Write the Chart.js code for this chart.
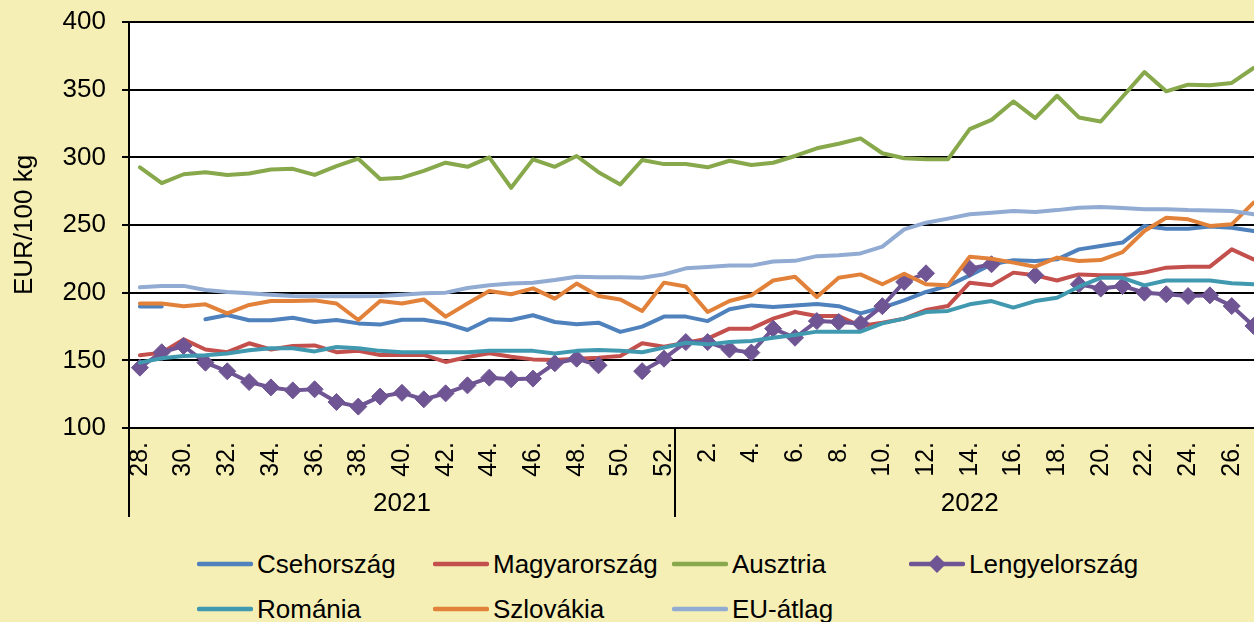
<!DOCTYPE html>
<html lang="hu">
<head>
<meta charset="utf-8">
<title>Sertésárak 2021-2022</title>
<script src="https://cdn.jsdelivr.net/npm/chart.js@4.4.1/dist/chart.umd.min.js"></script>
<style>
  html, body { margin: 0; padding: 0; }
  body { width: 1254px; height: 622px; overflow: hidden; background: #f5efb5; font-family: "Liberation Sans", Arial, sans-serif; }
  #wrap { position: relative; width: 1254px; height: 622px; overflow: hidden; }
  #box { position: absolute; left: 0; top: 0; width: 1274px; height: 530px; }
  .item { position: absolute; height: 32px; display: flex; align-items: center; font-size: 26px; color: #000; white-space: nowrap; }
  .item svg { margin-right: 4px; }
</style>
</head>
<body>
<div id="wrap">
  <div id="box"><canvas id="chart"></canvas></div>
  <div id="legend"></div>
</div>
<script>
const FONT = '"Liberation Sans", Arial, sans-serif';

const weeks2021 = ['28.', '29.', '30.', '31.', '32.', '33.', '34.', '35.', '36.', '37.', '38.', '39.', '40.',
    '41.', '42.', '43.', '44.', '45.', '46.', '47.', '48.', '49.', '50.', '51.', '52.'];
const weeks2022 = ['1.', '2.', '3.', '4.', '5.', '6.', '7.', '8.', '9.', '10.', '11.', '12.', '13.', '14.',
    '15.', '16.', '17.', '18.', '19.', '20.', '21.', '22.', '23.', '24.', '25.', '26.', '27.'];
const years = ['2021', '2022'];
const yTicks = [100, 150, 200, 250, 300, 350, 400];

const csehorszag = [189.7, 189.7, null, 180.3, 183.5, 179.6, 179.6, 181.5, 178.3, 179.8, 177.3, 176.4, 180,
    180, 177.3, 172.4, 180.3, 179.8, 183.3, 178.3, 176.6, 177.8, 171, 174.9, 182.3,
    182.3, 179, 187.7, 190.6, 189.4, 190.6, 191.6, 190, 184.7, 189, 194.3, 200.5, 205, 212.8,
    221, 224, 223.4, 224.6, 232, 234.5, 237, 249.3, 247.3, 247.3, 248.8, 248, 245.6];
const magyarorszag = [153.7, 155.7, 165.5, 158, 156, 162.6, 158, 160.6, 161, 156, 157, 154, 154,
    154, 148.8, 152.5, 155.2, 152.7, 150.7, 150.2, 151.2, 152, 153.2, 162.6, 160,
    163, 166, 173.4, 173.4, 180.8, 185.7, 182.8, 182.8, 175.4, 177.8, 180.8, 187.2, 190.1, 207.4,
    205.4, 214.8, 212.8, 209, 213.5, 212.8, 212.8, 214.8, 218.5, 219.2, 219.2, 232, 224.6];
const ausztria = [292.5, 281, 287.5, 289, 287, 288, 291, 291.5, 287, 293.5, 299, 284, 285,
    290, 296, 293, 300, 277.5, 298.5, 293, 301, 289, 280, 298, 295,
    295, 292.6, 297.5, 294.3, 296, 301, 306.7, 310, 314, 303, 299.3, 298.5, 298.5, 320.8,
    327.7, 341.3, 329, 345.5, 329.5, 326.5, 344.8, 363, 348.8, 353.7, 353.2, 355, 366];
const lengyelorszag = [144.6, 156, 160.6, 148.3, 141.9, 134, 130, 127.8, 128.6, 119.2, 115.8, 123.2, 126,
    121.2, 125.6, 131.5, 137.2, 136, 136.5, 147.8, 151.2, 146.3, null, 142, 151.2,
    163.5, 163.5, 158, 155.7, 173.4, 166.7, 179, 178.3, 177.3, 190, 207.9, 214.3, null, 217.7,
    221, null, 212.8, null, 206.2, 203, 204.9, 200, 198.8, 197.5, 198, 190.1, 175.4];
const romania = [148.3, 151.5, 153.2, 153.7, 155, 157.4, 159, 159, 156.6, 159.9, 159, 157, 156,
    156, 156, 156, 157, 157, 157, 155, 157, 157.6, 157, 156, 159.4,
    163, 161.8, 163.5, 164.3, 166.7, 168.7, 171.2, 171.2, 171.2, 177.3, 180.8, 185.7, 186.5, 191.4,
    193.8, 189, 193.8, 196.3, 204.4, 211, 211, 205.4, 209, 209, 209, 206.9, 206.2];
const szlovakia = [192, 192, 190, 191.4, 184.7, 190.9, 193.8, 193.8, 194.3, 192, 179.8, 193.8, 192,
    195, 182.3, 192, 201.2, 198.8, 203.2, 195.6, 206.7, 197.5, 195, 186.5, 207.4,
    204.5, 185.7, 193.8, 198, 209, 211.8, 196.8, 211, 213.5, 206.2, 214, 206.2, 205.4, 226.6,
    225, 222.2, 219.2, 225.9, 223.4, 224.1, 230, 245.6, 255.4, 254.2, 249.3, 250.5, 266.5];
const euAtlag = [204, 205, 205, 202, 200.5, 199.5, 198.5, 197.5, 197.3, 197.3, 197.3, 197.5, 198.5,
    199.5, 200, 203.4, 205.4, 206.7, 207.4, 209.4, 211.8, 211.3, 211.3, 211, 213.5,
    218, 219, 220, 220, 223, 223.5, 227, 227.6, 229, 234, 246.8, 251.7, 254.7, 257.9,
    259.1, 260.3, 259.6, 261, 262.8, 263.3, 262.6, 261.6, 261.6, 261, 260.8, 260.3, 257.9];

const series = [
    { label: 'Csehország', data: csehorszag, color: '#4f81bd' },
    { label: 'Magyarország', data: magyarorszag, color: '#c4504e' },
    { label: 'Ausztria', data: ausztria, color: '#87a84b' },
    { label: 'Lengyelország', data: lengyelorszag, color: '#6f5593', marker: true },
    { label: 'Románia', data: romania, color: '#4199b0' },
    { label: 'Szlovákia', data: szlovakia, color: '#e2823a' },
    { label: 'EU-átlag', data: euAtlag, color: '#91abd3' }
];

// legend item anchors (left of line sample, vertical centre)
const legendPos = [[197, 564], [433, 564], [672, 564], [909, 564], [197, 609], [433, 609], [672, 609]];

const plotBg = {
    id: 'plotBg',
    beforeDraw(chart) {
        const { ctx, chartArea: a } = chart;
        ctx.save();
        ctx.fillStyle = '#fff';
        ctx.fillRect(a.left, a.top, a.right - a.left, a.bottom - a.top);
        ctx.restore();
    }
};

const yearAxis = {
    id: 'yearAxis',
    afterDraw(chart) {
        const { ctx, chartArea: a, scales: { x } } = chart;
        const n1 = weeks2021.length;
        const split = (x.getPixelForValue(n1 - 1) + x.getPixelForValue(n1)) / 2;
        const bounds = [a.left, split, a.right];
        ctx.save();
        ctx.strokeStyle = '#000';
        ctx.lineWidth = 2;
        bounds.forEach(b => {
            ctx.beginPath();
            ctx.moveTo(Math.round(b), a.bottom);
            ctx.lineTo(Math.round(b), a.bottom + 89);
            ctx.stroke();
        });
        ctx.fillStyle = '#000';
        ctx.font = '26px ' + FONT;
        ctx.textAlign = 'center';
        ctx.textBaseline = 'alphabetic';
        years.forEach((yr, k) => ctx.fillText(yr, (bounds[k] + bounds[k + 1]) / 2, a.bottom + 83));
        ctx.restore();
    }
};

const chart = new Chart(document.getElementById('chart'), {
    type: 'line',
    data: {
        labels: weeks2021.concat(weeks2022),
        datasets: series.map((s, k) => ({
            label: s.label,
            data: s.data,
            borderColor: s.color,
            backgroundColor: s.color,
            borderWidth: 4,
            borderJoinStyle: 'round',
            borderCapStyle: 'round',
            tension: 0,
            pointStyle: 'rectRot',
            pointRadius: s.marker ? 8.5 : 0,
            pointHoverRadius: s.marker ? 8.5 : 0,
            pointBorderWidth: 1,
            pointBorderColor: s.color,
            pointBackgroundColor: s.color,
            order: series.length - k
        }))
    },
    options: {
        responsive: true,
        maintainAspectRatio: false,
        animation: false,
        events: [],
        layout: { padding: { top: 22, right: 3, bottom: 0, left: 0 } },
        plugins: {
            legend: { display: false },
            tooltip: { enabled: false }
        },
        scales: {
            x: {
                offset: true,
                grid: { display: false, drawTicks: false },
                border: { display: false },
                ticks: {
                    autoSkip: false,
                    minRotation: 90,
                    maxRotation: 90,
                    padding: 14,
                    color: '#000',
                    font: { size: 25, family: FONT },
                    callback: function(value, index) {
                        return index % 2 === 0 ? this.getLabelForValue(value) : '';
                    }
                },
                afterFit: function(scale) {
                    scale.height = 102;
                    scale.paddingLeft = 0;
                    scale.paddingRight = 0;
                }
            },
            y: {
                min: yTicks[0],
                max: yTicks[yTicks.length - 1],
                afterBuildTicks: function(scale) {
                    scale.ticks = yTicks.map(v => ({ value: v }));
                },
                ticks: { color: '#000', padding: 16, font: { size: 26, family: FONT } },
                grid: { color: '#000', lineWidth: 2, tickLength: 7, tickColor: '#000', tickWidth: 2 },
                border: { display: true, color: '#000', width: 2 },
                title: {
                    display: true,
                    text: 'EUR/100 kg',
                    color: '#000',
                    font: { size: 26, family: FONT },
                    padding: { top: 9, bottom: 0 }
                },
                afterFit: function(scale) {
                    scale.width = 129;
                    scale.paddingTop = 0;
                    scale.paddingBottom = 0;
                }
            }
        }
    },
    plugins: [plotBg, yearAxis]
});

const legend = document.getElementById('legend');
series.forEach((s, k) => {
    const [left, mid] = legendPos[k];
    const item = document.createElement('div');
    item.className = 'item';
    item.style.left = left + 'px';
    item.style.top = (mid - 16) + 'px';
    const marker = s.marker ? `<polygon points="28,1 37,10 28,19 19,10" fill="${s.color}"/>` : '';
    item.innerHTML = `<svg width="56" height="20"><line x1="2" y1="10" x2="54" y2="10" stroke="${s.color}" stroke-width="4.5" stroke-linecap="round"/>${marker}</svg><span>${s.label}</span>`;
    legend.appendChild(item);
});
</script>
</body>
</html>
